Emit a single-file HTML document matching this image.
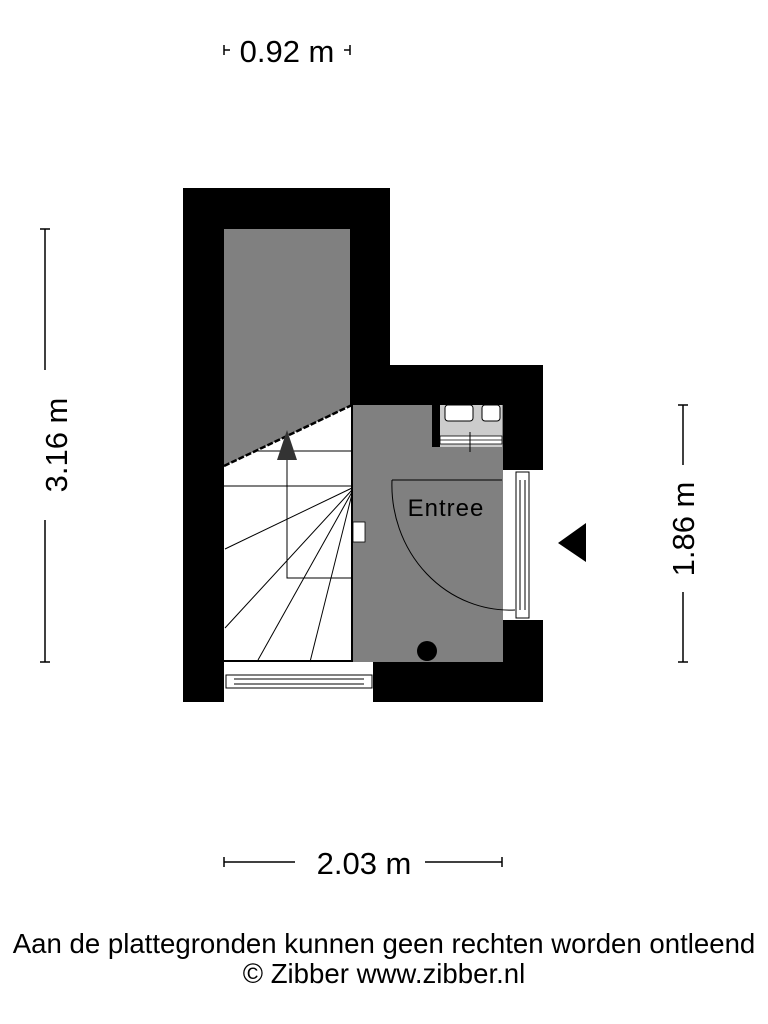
<!DOCTYPE html>
<html><head><meta charset="utf-8"><style>
html,body{margin:0;padding:0;background:#fff;}
body{width:768px;height:1024px;overflow:hidden;}
svg{display:block;font-family:"Liberation Sans",Arial,sans-serif;}
</style></head><body>
<svg width="768" height="1024" viewBox="0 0 768 1024" xmlns="http://www.w3.org/2000/svg">
<rect x="224" y="229" width="128" height="240" fill="#808080"/>
<polygon points="224,466 352,405 352,662 224,662" fill="#fff"/>
<rect x="352" y="405" width="151" height="257" fill="#808080"/>
<path d="M183,188 H390 V365 H543 V470 H503 V405 H350 V229 H224 V702 H183 Z" fill="#000"/>
<path d="M373,662 H503 V620 H543 V702 H373 Z" fill="#000"/>
<rect x="224" y="662" width="149" height="40" fill="#fff"/>
<rect x="226" y="675" width="146" height="13" fill="#fff" stroke="#000" stroke-width="1"/>
<line x1="234" y1="679" x2="364" y2="679" stroke="#000" stroke-width="1"/>
<line x1="234" y1="684" x2="364" y2="684" stroke="#000" stroke-width="1"/>
<rect x="503" y="470" width="40" height="150" fill="#fff"/>
<rect x="516" y="472" width="13" height="146" fill="#fff" stroke="#000" stroke-width="1"/>
<line x1="520" y1="480" x2="520" y2="610" stroke="#000" stroke-width="1"/>
<line x1="525" y1="480" x2="525" y2="610" stroke="#000" stroke-width="1"/>
<g stroke="#000" stroke-width="1" fill="none">
<line x1="255" y1="451" x2="352" y2="451"/>
<line x1="224" y1="486" x2="352" y2="486"/>
<line x1="352" y1="488" x2="225" y2="549"/>
<line x1="352" y1="490" x2="225" y2="628"/>
<line x1="352" y1="492" x2="258" y2="660"/>
<line x1="352" y1="494" x2="310" y2="662"/>
<polyline points="287,450 287,578 352,578"/>
</g>
<line x1="224" y1="466" x2="352" y2="405" stroke="#000" stroke-width="2.5" stroke-dasharray="6,2"/>
<line x1="352" y1="405" x2="352" y2="662" stroke="#000" stroke-width="2"/>
<line x1="224" y1="661" x2="352" y2="661" stroke="#000" stroke-width="2"/>
<polygon points="287,430 277,460 297,460" fill="#333"/>
<rect x="353" y="522" width="12" height="20" fill="#fff" stroke="#000" stroke-width="0.8"/>
<rect x="432" y="405" width="8" height="42" fill="#000"/>
<rect x="440" y="405" width="62" height="42" fill="#ccc"/>
<rect x="440" y="436" width="62" height="8" fill="#fff" stroke="#000" stroke-width="0.8"/>
<line x1="440" y1="440" x2="502" y2="440" stroke="#000" stroke-width="0.8"/>
<line x1="470" y1="432" x2="470" y2="452" stroke="#000" stroke-width="1"/>
<rect x="445" y="405" width="28" height="16" rx="3" fill="#fff" stroke="#000" stroke-width="1"/>
<rect x="482" y="405" width="18" height="16" rx="3" fill="#fff" stroke="#000" stroke-width="1"/>
<line x1="392" y1="480" x2="502" y2="480" stroke="#000" stroke-width="1"/>
<path d="M392,480 A118,125 0 0 0 515,610" stroke="#000" stroke-width="1" fill="none"/>
<circle cx="427" cy="651" r="10" fill="#000"/>
<text x="446" y="516" font-size="24" text-anchor="middle" letter-spacing="1">Entree</text>
<polygon points="558,543 586,523 586,562" fill="#000"/>
<g stroke="#000" stroke-width="1.5">
<line x1="224" y1="50" x2="230" y2="50"/><line x1="224" y1="45" x2="224" y2="55"/>
<line x1="344" y1="50" x2="350" y2="50"/><line x1="350" y1="45" x2="350" y2="55"/>
<line x1="45" y1="229" x2="45" y2="370"/><line x1="45" y1="520" x2="45" y2="662"/>
<line x1="40" y1="229" x2="50" y2="229"/><line x1="40" y1="662" x2="50" y2="662"/>
<line x1="683" y1="405" x2="683" y2="465"/><line x1="683" y1="592" x2="683" y2="662"/>
<line x1="678" y1="405" x2="688" y2="405"/><line x1="678" y1="662" x2="688" y2="662"/>
<line x1="224" y1="862" x2="295" y2="862"/><line x1="425" y1="862" x2="502" y2="862"/>
<line x1="224" y1="857" x2="224" y2="867"/><line x1="502" y1="857" x2="502" y2="867"/>
</g>
<text x="287" y="62" font-size="31" text-anchor="middle">0.92 m</text>
<text x="364" y="874" font-size="31" text-anchor="middle">2.03 m</text>
<text transform="translate(67,445) rotate(-90)" font-size="31" text-anchor="middle">3.16 m</text>
<text transform="translate(694,529) rotate(-90)" font-size="31" text-anchor="middle">1.86 m</text>
<text x="384" y="953" font-size="27.6" text-anchor="middle">Aan de plattegronden kunnen geen rechten worden ontleend</text>
<text x="384" y="983" font-size="27.6" text-anchor="middle">© Zibber www.zibber.nl</text>
</svg>
</body></html>
